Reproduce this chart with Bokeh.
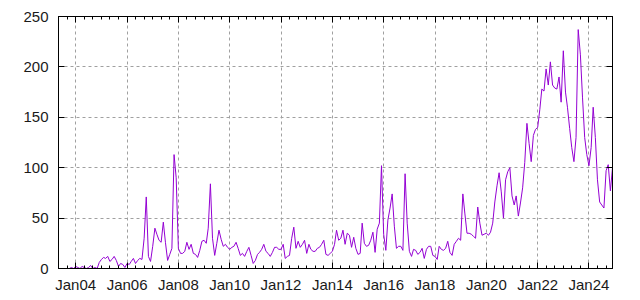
import pandas as pd
from bokeh.plotting import figure
from bokeh.models import (ColumnDataSource, Range1d, FixedTicker, LinearAxis,
                          DatetimeAxis, DatetimeTickFormatter, CustomJSTickFormatter)
from bokeh.embed import file_html
from bokeh.resources import INLINE

# Monthly values, May 2003 .. Dec 2024
start_month = "2003-05-01"
vals_2003 = [0, 0, 0, 0, 0, 0, 1, 0]
vals_2004 = [2, 1, 0, 2, 1, 0, 1, 3, 0, 1, 0, 6]
vals_2005_2006 = [9, 11, 10, 12, 7, 9, 12, 8, 2, 5, 4, 1,
                  5, 4, 7, 10, 5, 8, 10, 9, 30, 71, 12, 7]
vals_2007_2008 = [22, 40, 34, 28, 26, 46, 26, 8, 14, 20, 113, 90,
                  20, 15, 15, 17, 26, 19, 24, 15, 14, 11, 18, 27]
vals_2009_2010 = [28, 25, 40, 84, 30, 13, 25, 38, 29, 22, 24, 21,
                  19, 21, 22, 26, 20, 13, 15, 12, 17, 21, 13, 5]
vals_2011_2012 = [8, 14, 16, 19, 24, 17, 15, 12, 16, 21, 21, 19,
                  19, 24, 10, 12, 13, 30, 41, 20, 27, 21, 24, 28]
vals_2013_2014 = [15, 24, 19, 17, 17, 20, 21, 24, 28, 14, 13, 15,
                  17, 24, 38, 28, 30, 38, 24, 35, 33, 21, 31, 20]
vals_2015_2016 = [14, 15, 45, 25, 22, 23, 28, 36, 16, 39, 45, 102,
                  34, 18, 48, 60, 74, 42, 20, 22, 22, 18, 94, 45]
vals_2017_2018 = [17, 12, 19, 18, 14, 16, 20, 10, 19, 22, 22, 13,
                  12, 9, 22, 19, 18, 20, 27, 16, 13, 24, 27, 30]
vals_2019_2020 = [28, 74, 55, 35, 35, 34, 32, 30, 61, 45, 33, 34,
                  35, 33, 36, 45, 66, 82, 95, 76, 50, 88, 96, 100]
vals_2021_2022 = [72, 63, 72, 52, 65, 80, 105, 144, 124, 106, 132, 138,
                  140, 158, 178, 176, 198, 182, 205, 182, 179, 178, 190, 165]
vals_2023_2024 = [216, 175, 160, 139, 120, 106, 130, 237, 212, 170, 130, 113,
                  102, 120, 160, 130, 88, 66, 63, 60, 97, 103, 77, 100]

values = (vals_2003 + vals_2004 + vals_2005_2006 + vals_2007_2008 + vals_2009_2010
          + vals_2011_2012 + vals_2013_2014 + vals_2015_2016 + vals_2017_2018
          + vals_2019_2020 + vals_2021_2022 + vals_2023_2024)
dates = pd.date_range(start_month, periods=len(values), freq="MS")

y_ticks = [0, 50, 100, 150, 200, 250]
tick_years = list(range(2004, 2025, 2))

def ms(ts):
    return pd.Timestamp(ts).value // 10**6

major_x = [ms(f"{y}-01-01") for y in tick_years]
minor_dates = pd.date_range("2003-05-01", "2024-12-01", freq="4MS")
minor_x = [ms(d) for d in minor_dates if ms(d) not in major_x]

source = ColumnDataSource(data=dict(date=dates, value=values))

p = figure(width=640, height=300, x_axis_type="datetime",
           output_backend="svg", toolbar_location=None,
           x_range=Range1d(dates[0], dates[-1]), y_range=Range1d(0, 250),
           min_border_left=58, min_border_right=28,
           min_border_top=16, min_border_bottom=32)
p.background_fill_color = "white"
p.border_fill_color = "white"
p.outline_line_color = "black"
p.outline_line_width = 1

p.line("date", "value", source=source, line_color="#9400d3", line_width=1)

xt = FixedTicker(ticks=major_x, minor_ticks=minor_x)
yt = FixedTicker(ticks=y_ticks, minor_ticks=[])
fmt = "%b%y"
formatter = DatetimeTickFormatter(microseconds=fmt, milliseconds=fmt, seconds=fmt,
                                  minsec=fmt, minutes=fmt, hourmin=fmt, hours=fmt,
                                  days=fmt, months=fmt, years=fmt)
blank = CustomJSTickFormatter(code="return '';")

font = "Liberation Sans"

def style(ax):
    ax.axis_line_color = "black"
    ax.major_tick_in = 6
    ax.major_tick_out = 0
    ax.minor_tick_in = 3
    ax.minor_tick_out = 0
    ax.major_tick_line_color = "black"
    ax.minor_tick_line_color = "black"
    ax.major_label_text_font = font
    ax.major_label_text_font_size = "15px"
    ax.major_label_text_color = "#1a1a1a"

xa = p.xaxis[0]
xa.ticker = xt
xa.formatter = formatter
xa.major_label_standoff = 7
style(xa)

ya = p.yaxis[0]
ya.ticker = yt
ya.major_label_standoff = 10
style(ya)

top = DatetimeAxis(ticker=xt, formatter=blank, major_label_standoff=0)
style(top)
p.add_layout(top, "above")

right = LinearAxis(ticker=yt, formatter=blank, major_label_standoff=0)
style(right)
p.add_layout(right, "right")

for g in (p.xgrid[0], p.ygrid[0]):
    g.grid_line_color = "#a0a0a0"
    g.grid_line_dash = "3 3"
    g.grid_line_width = 1
p.xgrid[0].ticker = xt
p.ygrid[0].ticker = yt

open("out.html", "w").write(file_html(p, INLINE))
